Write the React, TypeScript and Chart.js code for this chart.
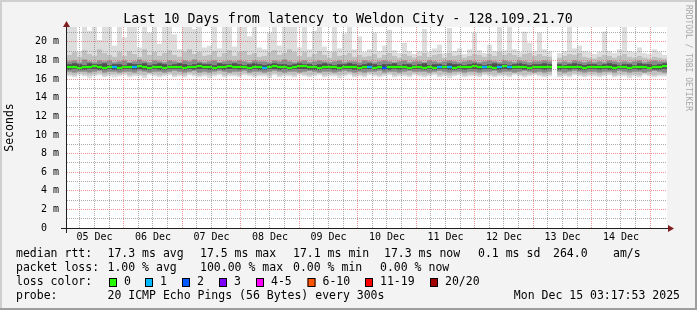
import React, { useEffect, useRef } from 'react';
import { Chart, registerables } from 'chart.js';

Chart.register(...registerables);

// ---------------- data ----------------
const TITLE = 'Last 10 Days from latency to Weldon City - 128.109.21.70';
const Y_TITLE = 'Seconds';
const DAY_LABELS = ['05 Dec', '06 Dec', '07 Dec', '08 Dec', '09 Dec', '10 Dec', '11 Dec', '12 Dec', '13 Dec', '14 Dec'];
const X_START_HOUR = 3.8; // hours after Dec 05 00:00
const X_END_HOUR = 243.8; // ten days later
const Y_MIN = 0;
const Y_MAX = 21.6; // ms

// one slot = 2 hours, 120 slots
const MAX_PING = [
  21.6, 21.6, 19.0, 21.6, 21.2, 21.6, 20.2, 21.6, 21.6, 19.6,
  21.6, 20.5, 21.6, 21.6, 19.4, 21.6, 21.0, 21.6, 19.8, 21.6, 21.6, 20.8,
  19.2, 21.6, 21.6, 21.4, 21.6, 19.4, 19.6, 21.6, 19.3, 21.6, 21.6, 19.5,
  21.6, 21.6, 20.6, 21.6, 19.4, 19.2, 21.0, 21.6, 19.6, 21.6, 21.6, 21.6,
  19.4, 21.6, 19.2, 21.2, 21.6, 19.5, 19.0, 21.6, 19.3, 20.9, 21.6, 19.2,
  20.6, 18.9, 19.2, 21.0, 19.0, 19.6, 21.3, 19.1, 18.8, 19.9, 19.0, 18.7,
  19.0, 21.4, 18.9, 19.3, 19.7, 18.8, 21.5, 19.0, 19.3, 18.7, 19.2, 21.0,
  19.1, 18.8, 19.7, 19.0, 21.6, 19.1, 21.6, 19.2, 18.9, 21.1, 19.9, 19.0,
  21.0, 19.2, 19.0, null, 18.8, 19.0, 21.6, 19.3, 19.6, 19.0, 18.9, 18.7,
  18.9, 21.1, 19.0, 18.8, 19.2, 21.6, 19.0, 18.9, 19.4, 18.8, 18.7, 19.2, 18.9, 18.6,
];
const MIN_PING = [
  16.3, 16.2, 16.4, 16.3, 16.1, 16.3, 16.4, 16.2, 16.3, 16.2,
  16.3, 16.4, 16.2, 16.3, 16.3, 16.1, 16.4, 16.3, 16.2, 16.3, 16.4, 16.2,
  16.3, 16.2, 16.4, 16.3, 16.2, 16.3, 16.1, 16.3, 16.4, 16.2, 16.3, 16.3,
  16.2, 16.4, 16.3, 16.2, 16.3, 16.3, 16.1, 16.4, 16.2, 16.3, 16.3, 16.2,
  16.4, 16.3, 16.2, 16.3, 16.4, 16.2, 16.3, 16.3, 16.1, 16.3, 16.4, 16.2,
  16.3, 16.2, 16.4, 16.3, 16.2, 16.3, 16.4, 16.2, 16.3, 16.3, 16.2, 16.4,
  16.3, 16.2, 16.3, 16.4, 16.2, 16.3, 16.1, 16.3, 16.4, 16.2, 16.3, 16.3,
  16.2, 16.4, 16.3, 16.2, 16.3, 16.3, 16.2, 16.4, 16.3, 16.2, 16.3, 16.4,
  16.3, 16.2, 16.3, null, 16.2, 16.3, 16.2, 16.4, 16.3, 16.2, 16.3, 16.3,
  16.2, 16.3, 16.4, 16.2, 16.3, 16.3, 16.1, 16.3, 16.2, 16.4, 16.3, 16.2, 16.3, 16.3,
];
const OUTER_HI = [
  18.6, 18.9, 18.4, 19.1, 18.7, 18.5, 19.2, 18.8, 18.6, 18.4,
  18.9, 18.5, 19.0, 18.7, 18.4, 19.2, 18.6, 18.9, 18.5, 18.8, 19.1, 18.6,
  18.4, 18.9, 19.2, 18.7, 18.9, 18.5, 18.6, 19.0, 18.4, 18.8, 19.1, 18.5,
  18.9, 19.0, 18.6, 18.8, 18.4, 18.5, 18.9, 19.1, 18.6, 18.8, 19.2, 18.9,
  18.5, 18.9, 18.4, 18.7, 19.0, 18.6, 18.3, 18.9, 18.5, 18.6, 18.8, 18.4,
  18.6, 18.4, 18.5, 18.7, 18.3, 18.6, 18.8, 18.5, 18.3, 18.7, 18.5, 18.3,
  18.5, 18.8, 18.4, 18.6, 18.7, 18.3, 18.8, 18.5, 18.6, 18.3, 18.5, 18.7,
  18.6, 18.4, 18.7, 18.5, 18.9, 18.6, 18.8, 18.6, 18.4, 18.7, 18.8, 18.5,
  18.7, 18.5, 18.4, null, 18.3, 18.5, 18.7, 18.6, 18.8, 18.4, 18.3, 18.2,
  18.4, 18.6, 18.5, 18.3, 18.5, 18.7, 18.4, 18.3, 18.5, 18.3, 18.2, 18.4, 18.3, 18.2,
];
const OUTER_LO = [
  16.5, 16.4, 16.6, 16.5, 16.4, 16.5, 16.6, 16.4, 16.5, 16.5,
  16.5, 16.6, 16.4, 16.5, 16.5, 16.4, 16.6, 16.5, 16.4, 16.5, 16.6, 16.4,
  16.5, 16.4, 16.6, 16.5, 16.4, 16.5, 16.4, 16.5, 16.6, 16.4, 16.5, 16.5,
  16.4, 16.6, 16.5, 16.4, 16.5, 16.5, 16.4, 16.6, 16.4, 16.5, 16.5, 16.4,
  16.6, 16.5, 16.4, 16.5, 16.6, 16.4, 16.5, 16.5, 16.4, 16.5, 16.6, 16.4,
  16.5, 16.4, 16.6, 16.5, 16.4, 16.5, 16.6, 16.4, 16.5, 16.5, 16.4, 16.6,
  16.5, 16.4, 16.5, 16.6, 16.4, 16.5, 16.4, 16.5, 16.6, 16.4, 16.5, 16.5,
  16.4, 16.6, 16.5, 16.4, 16.5, 16.5, 16.4, 16.6, 16.5, 16.4, 16.5, 16.6,
  16.5, 16.4, 16.5, null, 16.4, 16.5, 16.4, 16.6, 16.5, 16.4, 16.5, 16.5,
  16.4, 16.5, 16.6, 16.4, 16.5, 16.5, 16.4, 16.5, 16.4, 16.6, 16.5, 16.4, 16.5, 16.5,
];
const MID_HI = [
  17.9, 18.0, 17.8, 18.1, 17.9, 17.8, 18.0, 17.9, 18.0, 17.8,
  17.9, 18.0, 17.8, 17.9, 18.1, 17.9, 17.8, 18.0, 17.9, 17.8, 18.0, 17.9,
  17.8, 18.0, 17.9, 18.1, 17.9, 17.8, 17.9, 18.0, 17.8, 17.9, 18.0, 17.9,
  18.0, 17.9, 17.8, 18.0, 17.9, 17.9, 17.8, 18.0, 17.9, 18.1, 17.9, 17.8,
  17.9, 18.0, 17.8, 17.9, 18.0, 17.9, 17.8, 17.9, 18.0, 17.8, 17.9, 17.9,
  17.8, 18.0, 17.9, 17.8, 17.9, 18.0, 17.9, 17.8, 17.9, 18.0, 17.8, 17.9,
  17.9, 17.8, 18.0, 17.9, 17.8, 17.9, 18.0, 17.9, 17.8, 17.9, 18.0, 17.9,
  17.8, 17.9, 18.0, 17.9, 17.8, 18.0, 17.9, 17.8, 18.0, 17.9, 17.8, 17.9,
  17.9, 18.0, 17.9, null, 17.8, 17.9, 17.8, 18.0, 17.9, 17.8, 17.9, 17.8,
  17.9, 17.8, 18.0, 17.9, 17.8, 17.9, 17.8, 17.9, 18.0, 17.8, 17.9, 18.0, 17.9, 17.9,
];
const MID_LO = [
  16.8, 16.7, 16.8, 16.8, 16.7, 16.8, 16.9, 16.7, 16.8, 16.8,
  16.7, 16.8, 16.8, 16.7, 16.9, 16.8, 16.7, 16.8, 16.8, 16.7, 16.8, 16.9,
  16.8, 16.7, 16.8, 16.9, 16.7, 16.8, 16.7, 16.8, 16.9, 16.8, 16.7, 16.8,
  16.8, 16.9, 16.7, 16.8, 16.8, 16.7, 16.8, 16.9, 16.8, 16.7, 16.8, 16.8,
  16.7, 16.8, 16.9, 16.8, 16.7, 16.8, 16.8, 16.7, 16.8, 16.9, 16.8, 16.7,
  16.8, 16.7, 16.8, 16.8, 16.9, 16.7, 16.8, 16.8, 16.7, 16.8, 16.9, 16.8,
  16.8, 16.8, 16.7, 16.8, 16.9, 16.8, 16.7, 16.8, 16.8, 16.7, 16.8, 16.8,
  16.7, 16.8, 16.8, 16.9, 16.7, 16.8, 16.8, 16.7, 16.8, 16.9, 16.8, 16.7,
  16.8, 16.7, 16.8, null, 16.8, 16.7, 16.8, 16.9, 16.8, 16.7, 16.8, 16.8,
  16.7, 16.8, 16.8, 16.7, 16.9, 16.8, 16.7, 16.8, 16.8, 16.7, 16.8, 16.9, 16.8, 16.7,
];
const CORE_HI = [
  17.6, 17.7, 17.6, 17.5, 17.7, 17.6, 17.6, 17.7, 17.5, 17.6,
  17.6, 17.5, 17.7, 17.6, 17.6, 17.7, 17.5, 17.6, 17.7, 17.6, 17.5, 17.6,
  17.7, 17.6, 17.5, 17.6, 17.7, 17.6, 17.6, 17.5, 17.7, 17.6, 17.6, 17.7,
  17.6, 17.5, 17.6, 17.7, 17.6, 17.5, 17.6, 17.7, 17.6, 17.6, 17.5, 17.6,
  17.7, 17.6, 17.6, 17.5, 17.6, 17.7, 17.6, 17.5, 17.6, 17.6, 17.7, 17.6,
  17.5, 17.6, 17.7, 17.6, 17.5, 17.6, 17.6, 17.7, 17.5, 17.6, 17.6, 17.5,
  17.6, 17.7, 17.5, 17.6, 17.6, 17.5, 17.7, 17.6, 17.6, 17.5, 17.6, 17.7,
  17.6, 17.5, 17.6, 17.7, 17.6, 17.6, 17.5, 17.6, 17.7, 17.6, 17.5, 17.6,
  17.6, 17.7, 17.6, null, 17.6, 17.5, 17.6, 17.7, 17.6, 17.5, 17.6, 17.6,
  17.5, 17.6, 17.7, 17.6, 17.5, 17.6, 17.6, 17.5, 17.7, 17.6, 17.6, 17.5, 17.6, 17.7,
];
const CORE_LO = [
  17.0, 17.1, 17.0, 17.0, 17.1, 17.1, 17.0, 17.0, 17.1, 17.0,
  17.0, 17.1, 17.1, 17.0, 17.1, 17.0, 17.0, 17.1, 17.0, 17.0, 17.1, 17.1,
  17.1, 17.0, 17.1, 17.0, 17.1, 17.1, 17.0, 17.0, 17.1, 17.0, 17.1, 17.1,
  17.0, 17.1, 17.0, 17.1, 17.0, 17.0, 17.1, 17.1, 17.0, 17.1, 17.0, 17.1,
  17.1, 17.1, 17.0, 17.0, 17.0, 17.1, 17.1, 17.0, 17.0, 17.1, 17.1, 17.0,
  17.0, 17.1, 17.1, 17.0, 17.1, 17.0, 17.0, 17.1, 17.0, 17.1, 17.0, 17.1,
  17.1, 17.0, 17.1, 17.0, 17.1, 17.1, 17.0, 17.0, 17.1, 17.0, 17.1, 17.1,
  17.0, 17.1, 17.1, 17.0, 17.0, 17.1, 17.0, 17.1, 17.1, 17.0, 17.0, 17.1,
  17.1, 17.0, 17.1, null, 17.0, 17.1, 17.0, 17.1, 17.0, 17.0, 17.1, 17.1,
  17.0, 17.1, 17.0, 17.0, 17.1, 17.1, 17.0, 17.1, 17.0, 17.1, 17.1, 17.0, 17.0, 17.1,
];
const MEDIAN = [
  17.3, 17.3, 17.2, 17.3, 17.3, 17.4, 17.3, 17.2, 17.3, 17.3,
  17.2, 17.3, 17.3, 17.3, 17.4, 17.3, 17.2, 17.3, 17.3, 17.2, 17.3, 17.3,
  17.3, 17.2, 17.3, 17.3, 17.4, 17.3, 17.3, 17.2, 17.3, 17.3, 17.4, 17.3,
  17.3, 17.3, 17.2, 17.3, 17.3, 17.2, 17.3, 17.4, 17.3, 17.3, 17.2, 17.3,
  17.4, 17.4, 17.3, 17.3, 17.2, 17.3, 17.3, 17.3, 17.2, 17.3, 17.3, 17.3,
  17.2, 17.3, 17.3, 17.2, 17.3, 17.2, 17.3, 17.3, 17.3, 17.3, 17.2, 17.3,
  17.3, 17.2, 17.3, 17.2, 17.3, 17.3, 17.3, 17.2, 17.3, 17.3, 17.3, 17.4,
  17.3, 17.3, 17.3, 17.2, 17.3, 17.4, 17.3, 17.3, 17.3, 17.3, 17.2, 17.3,
  17.3, 17.3, 17.3, null, 17.3, 17.3, 17.3, 17.3, 17.3, 17.2, 17.3, 17.3,
  17.3, 17.3, 17.3, 17.2, 17.3, 17.3, 17.2, 17.3, 17.3, 17.3, 17.2, 17.3, 17.3, 17.4,
];
// slots where packets were lost, and how many of the 20
const LOSS_SLOTS = [9, 13, 39, 60, 63, 74, 76, 83, 86, 88];
const LOSS_COUNTS = [1, 1, 1, 1, 2, 1, 1, 1, 1, 1];

const LOSS_LEGEND = ['0', '1', '2', '3', '4-5', '6-10', '11-19', '20/20'];
const LOSS_COLORS = ['#26ff00', '#00b8ff', '#0059ff', '#7e00ff', '#ff00ff', '#ff5500', '#ff0000', '#a10000'];
const LOSS_UPPER = [0, 1, 2, 3, 5, 10, 19, 20];

const SMOKE_COLORS = ['#dddddd', '#c0c0c0', '#8a8a8a', '#4e4e4e'];

const RTT_LINE = ['median rtt:', '17.3 ms avg', '17.5 ms max', '17.1 ms min', '17.3 ms now', '0.1 ms sd', '264.0', 'am/s'];
const LOSS_LINE = ['packet loss:', '1.00 % avg', '100.00 % max', '0.00 % min', '0.00 % now'];
const PROBE_LINE = ['probe:', '20 ICMP Echo Pings (56 Bytes) every 300s'];
const STAMP = 'Mon Dec 15 03:17:53 2025';
const WATERMARK = 'RRDTOOL / TOBI OETIKER';

// ---------------- helpers ----------------
const MONO = '"DejaVu Sans Mono", monospace';
const MAJOR_GRID = 'rgba(222,79,79,0.6)';
const MINOR_GRID = 'rgba(143,143,143,0.75)';

function pairs(lo: (number | null)[], hi: (number | null)[]) {
  return lo.map((v, i) => (v == null || hi[i] == null ? null : [v, hi[i] as number]));
}
function lossAt(i: number) {
  const k = LOSS_SLOTS.indexOf(i);
  return k < 0 ? 0 : LOSS_COUNTS[k];
}
function lossColor(n: number) {
  for (let k = 0; k < LOSS_UPPER.length; k++) if (n <= LOSS_UPPER[k]) return LOSS_COLORS[k];
  return LOSS_COLORS[LOSS_COLORS.length - 1];
}

const decor = {
  id: 'decor',
  beforeDraw(chart: any) {
    const { ctx, chartArea: a, width: W, height: H } = chart;
    ctx.save();
    ctx.fillStyle = '#f3f3f3';
    ctx.fillRect(0, 0, W, H);
    ctx.fillStyle = '#cfcfcf';
    ctx.fillRect(0, 0, W, 2);
    ctx.fillRect(0, 0, 2, H);
    ctx.fillStyle = '#9e9e9e';
    ctx.fillRect(0, H - 2, W, 2);
    ctx.fillRect(W - 2, 0, 2, H);
    ctx.fillStyle = '#ffffff';
    ctx.fillRect(a.left, a.top, a.right - a.left, a.bottom - a.top);
    ctx.restore();
  },
  afterDatasetsDraw(chart: any) {
    // rrdtool-style dotted grid, drawn on top of the smoke: minor first, major on top
    const { ctx, chartArea: a, scales } = chart;
    const xs = scales.xt;
    const ys = scales.y;
    ctx.save();
    ctx.lineWidth = 1;
    ctx.setLineDash([1, 1]);
    for (const pass of [0, 1]) {
      xs.ticks.forEach((t: any) => {
        const major = Math.round(t.value) % 24 === 0 ? 1 : 0;
        if (major !== pass) return;
        const px = Math.floor(xs.getPixelForValue(t.value)) + 0.5;
        if (px <= a.left || px >= a.right) return;
        ctx.strokeStyle = major ? MAJOR_GRID : MINOR_GRID;
        ctx.beginPath();
        ctx.moveTo(px, a.bottom);
        ctx.lineTo(px, a.top);
        ctx.stroke();
      });
      ys.ticks.forEach((t: any) => {
        if (t.value === 0) return;
        const major = Math.round(t.value) % 2 === 0 ? 1 : 0;
        if (major !== pass) return;
        const py = Math.floor(ys.getPixelForValue(t.value)) + 0.5;
        ctx.strokeStyle = major ? MAJOR_GRID : MINOR_GRID;
        ctx.beginPath();
        ctx.moveTo(a.left, py);
        ctx.lineTo(a.right, py);
        ctx.stroke();
      });
    }
    ctx.restore();
  },
  afterDraw(chart: any) {
    const { ctx, chartArea: a } = chart;
    ctx.save();
    // axes
    ctx.strokeStyle = '#1f1f1f';
    ctx.lineWidth = 1;
    ctx.beginPath();
    ctx.moveTo(a.left - 6, a.bottom + 0.5);
    ctx.lineTo(a.right + 4, a.bottom + 0.5);
    ctx.moveTo(a.left - 0.5, a.bottom + 5);
    ctx.lineTo(a.left - 0.5, a.top - 2);
    ctx.stroke();
    ctx.fillStyle = '#801f1f';
    ctx.beginPath();
    ctx.moveTo(a.left - 0.5, a.top - 6);
    ctx.lineTo(a.left - 4, a.top);
    ctx.lineTo(a.left + 3, a.top);
    ctx.closePath();
    ctx.fill();
    ctx.beginPath();
    ctx.moveTo(a.right + 7, a.bottom + 0.5);
    ctx.lineTo(a.right + 1, a.bottom - 3);
    ctx.lineTo(a.right + 1, a.bottom + 4);
    ctx.closePath();
    ctx.fill();

    // title
    ctx.fillStyle = '#000';
    ctx.font = '13.33px ' + MONO;
    ctx.textAlign = 'center';
    ctx.textBaseline = 'middle';
    ctx.fillText(TITLE, 348, 19.5);

    // watermark
    ctx.save();
    ctx.translate(688, 5);
    ctx.rotate(Math.PI / 2);
    ctx.font = '8px ' + MONO;
    ctx.fillStyle = '#a8a8a8';
    ctx.textAlign = 'left';
    ctx.fillText(WATERMARK, 0, 0);
    ctx.restore();

    // legend
    ctx.font = '11.5px ' + MONO;
    ctx.fillStyle = '#000';
    ctx.textAlign = 'left';
    ctx.textBaseline = 'middle';
    const rttX = [16, 107.5, 200, 293, 384, 478, 553, 613];
    RTT_LINE.forEach((t, i) => ctx.fillText(t, rttX[i], 254.5));
    const lossX = [16, 107.5, 200, 293, 380];
    LOSS_LINE.forEach((t, i) => ctx.fillText(t, lossX[i], 268.5));
    ctx.fillText('loss color:', 16, 282.5);
    const boxX = [109, 145, 182, 219, 256, 307.5, 365, 430];
    LOSS_LEGEND.forEach((t, i) => {
      ctx.fillStyle = LOSS_COLORS[i];
      ctx.fillRect(boxX[i], 278.5, 8, 8);
      ctx.strokeStyle = '#000';
      ctx.strokeRect(boxX[i] + 0.5, 278.5, 7, 8);
      ctx.fillStyle = '#000';
      ctx.fillText(t, boxX[i] + 15, 282.5);
    });
    ctx.fillText(PROBE_LINE[0], 16, 296.5);
    ctx.fillText(PROBE_LINE[1], 107.5, 296.5);
    ctx.textAlign = 'right';
    ctx.fillText(STAMP, 680, 296.5);
    ctx.restore();
  },
};

export default function App() {
  const ref = useRef<HTMLCanvasElement>(null);

  useEffect(() => {
    document.body.style.margin = '0';
    const canvas = ref.current;
    if (!canvas) return;

    const slots = MEDIAN.map((_, i) => String(i));
    const smoke = [
      pairs(MIN_PING, MAX_PING),
      pairs(OUTER_LO, OUTER_HI),
      pairs(MID_LO, MID_HI),
      pairs(CORE_LO, CORE_HI),
    ];
    const medianBars = MEDIAN.map((m) => (m == null ? null : [m - 0.12, m + 0.12]));
    const medianColors = MEDIAN.map((_, i) => lossColor(lossAt(i)));

    const barCommon = {
      type: 'bar' as const,
      barPercentage: 1,
      categoryPercentage: 1,
      grouped: false,
      borderWidth: 0,
      borderSkipped: false,
      inflateAmount: 0,
    };

    const datasets: any[] = smoke.map((d, k) => ({
      ...barCommon,
      label: 'smoke' + k,
      data: d,
      backgroundColor: SMOKE_COLORS[k],
      order: 10 - k,
    }));
    datasets.push({
      ...barCommon,
      label: 'median',
      data: medianBars,
      backgroundColor: medianColors,
      order: 0,
    });

    const hourTicks: number[] = [];
    for (let h = 6; h <= 240; h += 6) hourTicks.push(h);
    const yTicks: number[] = [];
    for (let v = 0; v <= 21; v++) yTicks.push(v);

    const chart = new Chart(canvas, {
      type: 'bar',
      data: { labels: slots, datasets },
      plugins: [decor],
      options: {
        responsive: false,
        animation: false,
        devicePixelRatio: 1,
        events: [],
        layout: { padding: { left: 0, right: 30, top: 27, bottom: 62 } },
        plugins: { legend: { display: false }, tooltip: { enabled: false }, title: { display: false } },
        scales: {
          x: { type: 'category', display: false, offset: true },
          xt: {
            type: 'linear',
            axis: 'x',
            position: 'bottom',
            min: X_START_HOUR,
            max: X_END_HOUR,
            afterBuildTicks: (s: any) => {
              s.ticks = hourTicks.map((v) => ({ value: v }));
            },
            afterFit: (s: any) => {
              s.height = 20;
            },
            grid: { display: false, drawTicks: false },
            border: { display: false },
            ticks: {
              autoSkip: false,
              maxRotation: 0,
              padding: 3,
              color: '#000',
              font: { family: MONO, size: 10 },
              callback: (v: any) => (v % 24 === 12 ? DAY_LABELS[(v - 12) / 24] ?? '' : ''),
            },
          },
          y: {
            type: 'linear',
            min: Y_MIN,
            max: Y_MAX,
            afterBuildTicks: (s: any) => {
              s.ticks = yTicks.map((v) => ({ value: v }));
            },
            afterFit: (s: any) => {
              s.width = 67;
            },
            grid: { display: false, drawTicks: false },
            border: { display: false },
            ticks: {
              autoSkip: false,
              padding: 8,
              color: '#000',
              font: { family: MONO, size: 10 },
              callback: (v: any) => (v % 2 === 0 ? (v === 0 ? '0  ' : v + ' m') : ''),
            },
            title: {
              display: true,
              text: Y_TITLE,
              color: '#000',
              font: { family: MONO, size: 11.5 },
              padding: { top: 3, bottom: 0 },
            },
          },
        },
      } as any,
    });
    return () => chart.destroy();
  }, []);

  return (
    <div style={{ position: 'absolute', left: 0, top: 0 }}>
      <canvas ref={ref} width={697} height={310} style={{ display: 'block', width: 697, height: 310 }} />
    </div>
  );
}
